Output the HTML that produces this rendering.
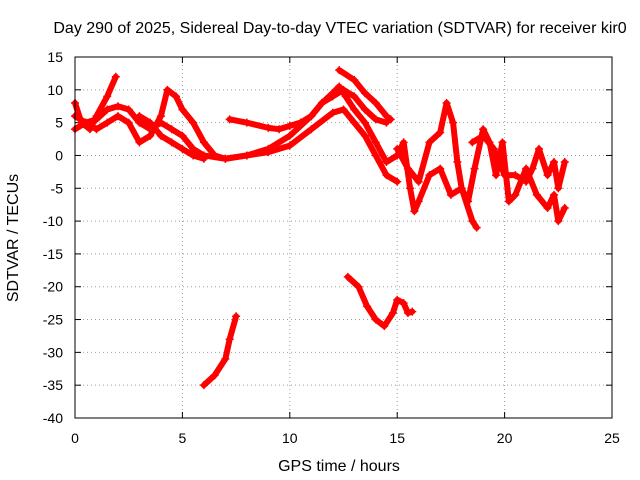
<!DOCTYPE html>
<html><head><meta charset="utf-8"><style>
body{margin:0;background:#fff}
svg{display:block;font-family:"Liberation Sans",sans-serif}
</style></head><body>
<svg id="chart" width="640" height="480">
<text x="340" y="33" text-anchor="middle" font-size="16">Day 290 of 2025, Sidereal Day-to-day VTEC variation (SDTVAR) for receiver kir0</text>
<text x="339" y="471" text-anchor="middle" font-size="16">GPS time / hours</text>
<text transform="translate(18,238) rotate(-90)" text-anchor="middle" font-size="16">SDTVAR / TECUs</text>
<g id="grid"></g><g id="ticks"></g><g id="marks"></g>
<rect x="75" y="57" width="537" height="361" fill="none" stroke="#000"/>
</svg>
<script>
const xTicks=[0,5,10,15,20,25];
const yTicks=[15,10,5,0,-5,-10,-15,-20,-25,-30,-35,-40];
const trackA=[[6.0,-35],[6.5,-33.5],[7.0,-31],[7.2,-28],[7.5,-24.5]];
const trackB=[[12.7,-18.5],[13.2,-20],[13.6,-23],[14,-25],[14.4,-26],[14.8,-24],[15.0,-22],[15.3,-22.5],[15.5,-24],[15.7,-23.8]];
const trackC=[[7.2,5.5],[8,5],[9,4.2],[9.5,4],[10,4.5],[10.5,5],[11,6],[11.5,8],[12,9],[12.5,10],[13,9],[13.5,7],[14,5.5],[14.5,5]];
const trackD=[[12.3,13],[13,11.5],[13.5,9.5],[14,8],[14.5,6],[14.7,5.5]];
const trackE=[[0,8],[0.3,5],[0.7,4],[1,6],[1.5,9],[1.9,12]];
const trackF=[[0,4],[0.5,5],[1,5.5],[1.5,7],[2,7.5],[2.5,7],[3,5],[3.5,4],[4,5],[4.5,4],[5,3],[5.5,1],[6,0],[7,-0.5],[8,0],[9,0.5],[10,1.5],[11,4],[12,6.5],[12.5,7],[13,5],[13.5,3],[14,0],[14.5,-3],[15,-4]];
const trackG=[[0,6],[1,4],[1.5,5],[2,6],[2.5,5],[3,2],[3.5,3],[4,6],[4.3,10],[4.7,9],[5,7],[5.5,5],[6,2],[6.5,0],[7,-0.5],[8,0],[9,1],[10,3],[11,6],[11.5,8],[12,9.5],[12.3,10.5],[12.6,9],[13,7],[13.5,5],[14,2],[14.5,-1],[15,0],[15.3,2],[15.6,-5],[15.8,-8.5],[16,-7],[16.5,-3],[17,-2],[17.5,-6],[18,-5],[18.5,-10],[18.7,-11]];
const trackH=[[15,1],[15.5,-2],[16,-4],[16.5,2],[17,3.5],[17.3,8],[17.6,5],[17.8,-1],[18,-5],[18.3,-7],[18.6,-2],[19,4],[19.3,2],[19.6,-3],[19.9,2],[20.2,-7],[20.5,-6],[21,-2],[21.5,-6],[22,-8],[22.3,-6],[22.5,-10],[22.8,-8]];
const trackI=[[18.5,2],[19,3],[19.5,1],[20,-3],[20.5,-3],[21,-4],[21.3,-2],[21.6,1],[22,-3],[22.3,-1],[22.5,-5],[22.8,-1]];
const trackJ=[[3,6],[3.5,5],[4,3],[4.5,2],[5,1],[5.5,0],[6,-0.5]];
const tracks=[trackA,trackB,trackC,trackD,trackE,trackF,trackG,trackH,trackI,trackJ];
const NS="http://www.w3.org/2000/svg";
const X=v=>75+v*(537/25);
const Y=v=>57+(15-v)*(361/55);
function mk(tag,attrs,parent){const e=document.createElementNS(NS,tag);for(const k in attrs)e.setAttribute(k,attrs[k]);parent.appendChild(e);return e;}
const grid=document.getElementById('grid'),ticks=document.getElementById('ticks'),marks=document.getElementById('marks');
xTicks.forEach(t=>{
 const x=X(t);
 if(t>0&&t<25){const g=mk('line',{x1:x,x2:x,y1:57,y2:418,stroke:'#a0a0a0','stroke-dasharray':'1,3'},grid);
 
 }
 mk('line',{x1:x,x2:x,y1:418,y2:412,stroke:'#000'},ticks);
 mk('line',{x1:x,x2:x,y1:57,y2:63,stroke:'#000'},ticks);
 const l=mk('text',{x:x,y:443,'text-anchor':'middle','font-size':14},ticks);l.textContent=t;
 
 
});
yTicks.forEach(t=>{
 const y=Y(t);
 if(t<15&&t>-40){const g=mk('line',{x1:75,x2:612,y1:y,y2:y,stroke:'#a0a0a0','stroke-dasharray':'1,3'},grid);
 
 }
 mk('line',{x1:75,x2:81,y1:y,y2:y,stroke:'#000'},ticks);
 mk('line',{x1:612,x2:606,y1:y,y2:y,stroke:'#000'},ticks);
 const l=mk('text',{x:63,y:y+5,'text-anchor':'end','font-size':14},ticks);l.textContent=t;
 
 
});
tracks.forEach((tr,i)=>{
 const p=mk('polyline',{points:tr.map(d=>X(d[0])+','+Y(d[1])).join(' '),fill:'none',stroke:'#f00','stroke-width':6,'stroke-linejoin':'round','stroke-linecap':'round'},marks);
 
 
 tr.forEach(d=>{
  const x=X(d[0]),y=Y(d[1]);
  const m=mk('path',{d:`M${x-4},${y}H${x+4}M${x},${y-4}V${y+4}`,stroke:'#f00','stroke-width':1.5},marks);
  
  
 });
});
</script>
</body></html>
